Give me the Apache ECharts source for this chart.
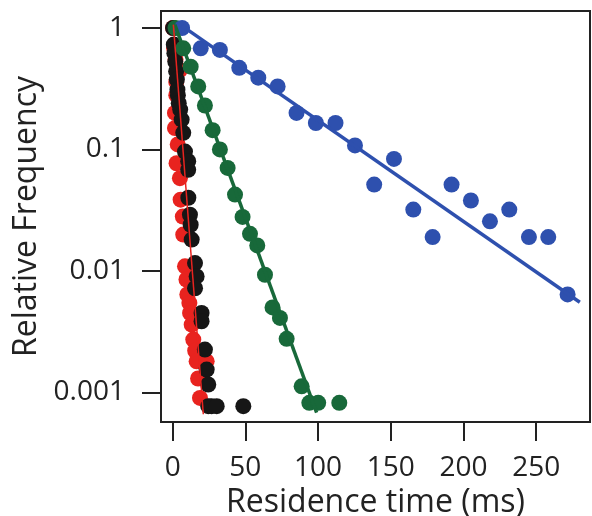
<!DOCTYPE html>
<html>
<head>
<meta charset="utf-8">
<script src="https://cdn.jsdelivr.net/npm/echarts@6/dist/echarts.min.js"></script>
<style>
  html, body { margin: 0; padding: 0; background: #fff; }
  #chart { width: 592px; height: 516px; }
</style>
</head>
<body>
<div id="chart"></div>
<script>
// Residence-time distributions (relative frequency, log scale) with exponential fits.

// Red population
const redPoints = [
  [0.3, 1.0], [1.0, 0.68], [2.0, 0.55], [5.0, 0.45], [2.5, 0.36], [2.5, 0.28],
  [1.6, 0.2], [1.6, 0.15], [3.5, 0.11], [2.7, 0.077], [5.0, 0.058], [5.5, 0.0386],
  [7.0, 0.028], [7.3, 0.0199], [8.5, 0.0109], [9.5, 0.0085], [10.1, 0.0064], [11.5, 0.00545],
  [12.0, 0.0045], [13.1, 0.00361], [14.2, 0.00272], [15.5, 0.0022], [16.5, 0.0018],
  [23.4, 0.0018], [17.5, 0.0013], [18.8, 0.0009]
];
// Black population
const blackPoints = [
  [0.3, 1.0], [0.8, 0.73], [1.2, 0.62], [1.8, 0.53], [2.4, 0.44], [2.9, 0.376],
  [3.3, 0.31], [3.6, 0.28], [4.2, 0.24], [5.2, 0.213], [6.2, 0.176], [7.3, 0.137],
  [8.5, 0.096], [10.7, 0.08], [10.7, 0.068], [10.8, 0.04], [11.9, 0.029], [12.4, 0.024],
  [13.1, 0.0181], [15.4, 0.0116], [16.5, 0.009], [15.4, 0.0072], [19.9, 0.0045],
  [19.9, 0.00385], [22.2, 0.00225], [23.4, 0.00154], [24.5, 0.00116], [24.5, 0.00077],
  [26.8, 0.00077], [30.3, 0.00077], [48.6, 0.00077]
];
// Green population
const greenPoints = [
  [2.0, 1.0], [7.3, 0.68], [12.4, 0.48], [17.6, 0.33], [22.2, 0.23], [27.5, 0.144],
  [32.5, 0.1], [37.8, 0.0705], [42.9, 0.0425], [48.1, 0.0278], [53.2, 0.0202], [58.2, 0.0162],
  [63.5, 0.0093], [68.7, 0.005], [73.8, 0.0041], [78.4, 0.00276], [88.7, 0.00112],
  [94.0, 0.00082], [100.1, 0.00082], [114.6, 0.00082]
];
// Blue population
const bluePoints = [
  [6.5, 1.0], [19.3, 0.68], [32.5, 0.66], [45.8, 0.47], [58.9, 0.39], [72.2, 0.33],
  [85.2, 0.2], [98.5, 0.165], [112.0, 0.165], [125.4, 0.108], [138.6, 0.0514], [152.2, 0.0835],
  [165.5, 0.032], [178.8, 0.019], [191.8, 0.0514], [205.1, 0.038], [218.2, 0.0256],
  [231.5, 0.032], [245.0, 0.019], [258.3, 0.019], [271.6, 0.0064]
];

// Single-exponential fits (straight on the log axis): start and end of each fitted curve
const redFit = [[0.5, 1.065], [21.1, 0.00066]];
const greenFit = [[1.5, 1.065], [99.0, 0.00068]];
const blueFit = [[6.2, 1.045], [280.0, 0.00552]];

// Axis ticks
const xTicks = [0, 50, 100, 150, 200, 250];
const yTicks = [0.001, 0.01, 0.1, 1];
const yTickLabels = ['0.001', '0.01', '0.1', '1'];

const FONT = 'Open Sans';
const INK = '#222222';

const chart = echarts.init(document.getElementById('chart'), null, { renderer: 'canvas' });

function dots(data, color, z) {
  return {
    type: 'scatter', data: data, symbol: 'circle', symbolSize: 16, z: z,
    itemStyle: { color: color, opacity: 1 },
    emphasis: { disabled: true }, silent: true
  };
}
function fit(data, color, width, z) {
  return {
    type: 'line', data: data, showSymbol: false, z: z, silent: true,
    lineStyle: { color: color, width: width }
  };
}

chart.setOption({
  animation: false,
  backgroundColor: '#ffffff',
  grid: {
    left: 161, top: 11, right: 2, bottom: 94,
    outerBoundsMode: 'none', containLabel: false,
    show: true, borderColor: INK, borderWidth: 2, backgroundColor: 'transparent'
  },
  xAxis: {
    type: 'value', min: -8, max: 287,
    name: 'Residence time (ms)', nameLocation: 'middle', nameGap: 64,
    nameTextStyle: { fontFamily: FONT, fontSize: 32, color: INK },
    axisLine: { show: true, onZero: false, lineStyle: { color: INK, width: 2 } },
    axisTick: { show: true, length: 19, customValues: xTicks, lineStyle: { color: INK, width: 2 } },
    axisLabel: {
      customValues: xTicks, margin: 32,
      fontFamily: FONT, fontSize: 28, color: INK
    },
    splitLine: { show: false }
  },
  yAxis: {
    type: 'log', logBase: 10, min: 0.00057, max: 1.38,
    name: 'Relative Frequency', nameLocation: 'middle', nameGap: 116, nameRotate: 90,
    nameTextStyle: { fontFamily: FONT, fontSize: 32, color: INK },
    axisLine: { show: true, onZero: false, lineStyle: { color: INK, width: 2 } },
    axisTick: { show: true, length: 19, customValues: yTicks, lineStyle: { color: INK, width: 2 } },
    axisLabel: {
      customValues: yTicks, margin: 36,
      fontFamily: FONT, fontSize: 28, color: INK,
      formatter: function (v) {
        for (let i = 0; i < yTicks.length; i++) {
          if (Math.abs(Math.log10(v) - Math.log10(yTicks[i])) < 1e-6) return yTickLabels[i];
        }
        return '';
      }
    },
    splitLine: { show: false }
  },
  series: [
    dots(redPoints, '#e8231f', 2),
    dots(blackPoints, '#161616', 3),
    dots(greenPoints, '#18693a', 4),
    dots(bluePoints, '#2e50ae', 5),
    fit(greenFit, '#18693a', 3.5, 6),
    fit(blueFit, '#2e50ae', 3.5, 6),
    fit(redFit, '#e8231f', 1.5, 7)
  ]
});
</script>
</body>
</html>
